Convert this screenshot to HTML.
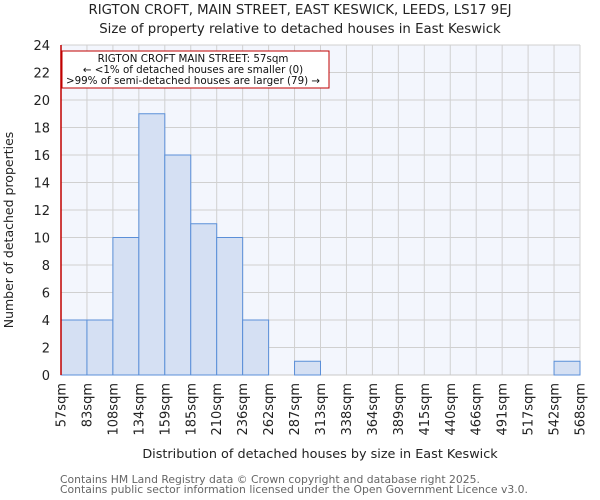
<!DOCTYPE html>
<html><head><meta charset="utf-8"><style>
body{margin:0;background:#fff;}
svg{display:block;font-family:"DejaVu Sans","Liberation Sans",sans-serif;}
</style></head><body>
<svg id="chart" width="600" height="500">
<text x="300" y="14" text-anchor="middle" font-size="13.3" fill="#222">RIGTON CROFT, MAIN STREET, EAST KESWICK, LEEDS, LS17 9EJ</text>
<text x="300" y="33" text-anchor="middle" font-size="13.3" fill="#222">Size of property relative to detached houses in East Keswick</text>
<rect x="61" y="45" width="519" height="330" fill="#f3f6fd"/>
<g id="grid"></g>
<g id="bars"></g>
<g id="yticks"></g>
<g id="xticks"></g>
<line x1="61" y1="45" x2="61" y2="375" stroke="#c00000" stroke-width="1.5"/>
<g>
<rect x="62" y="51" width="267" height="37" fill="#fff" stroke="#c00000" stroke-width="1"/>
<text x="193" y="62" text-anchor="middle" font-size="10.3" fill="#111">RIGTON CROFT MAIN STREET: 57sqm</text>
<text x="193" y="73" text-anchor="middle" font-size="10.3" fill="#111">← &lt;1% of detached houses are smaller (0)</text>
<text x="193" y="84" text-anchor="middle" font-size="10.3" fill="#111">&gt;99% of semi-detached houses are larger (79) →</text>
</g>
<text transform="translate(13,230) rotate(-90)" text-anchor="middle" font-size="12.5" fill="#222">Number of detached properties</text>
<text x="320" y="458" text-anchor="middle" font-size="12.8" fill="#222">Distribution of detached houses by size in East Keswick</text>
<text x="60" y="483" font-size="10.8" fill="#666">Contains HM Land Registry data © Crown copyright and database right 2025.</text>
<text x="60" y="493" font-size="10.8" fill="#666">Contains public sector information licensed under the Open Government Licence v3.0.</text>
</svg>
<script>
const categories=["57sqm","83sqm","108sqm","134sqm","159sqm","185sqm","210sqm","236sqm","262sqm","287sqm","313sqm","338sqm","364sqm","389sqm","415sqm","440sqm","466sqm","491sqm","517sqm","542sqm","568sqm"];
const counts=[4,4,10,19,16,11,10,4,0,1,0,0,0,0,0,0,0,0,0,1];
const yTicks=[0,2,4,6,8,10,12,14,16,18,20,22,24];
const NS="http://www.w3.org/2000/svg";
const X0=61,X1=580,Y0=375,Y1=45,YMAX=24;
const bw=(X1-X0)/counts.length;
function xs(i){return X0+i*bw;}
function ys(v){return Y0-(v/YMAX)*(Y0-Y1);}
function mk(t,a,p){const e=document.createElementNS(NS,t);for(const k in a)e.setAttribute(k,a[k]);p.appendChild(e);return e;}
const grid=document.getElementById('grid'),bars=document.getElementById('bars'),yt=document.getElementById('yticks'),xt=document.getElementById('xticks');
yTicks.forEach(v=>{
 const l=mk('line',{x1:X0,x2:X1,y1:ys(v),y2:ys(v),stroke:'#d0d0d0','stroke-width':1},grid);
 
 
 const t=mk('text',{x:50,y:ys(v)+5,'text-anchor':'end','font-size':13,fill:'#222'},yt);
 t.textContent=v;
 
 
});
categories.forEach((c,i)=>{
 const x=xs(i);
 const l=mk('line',{x1:x,x2:x,y1:Y1,y2:Y0,stroke:'#d0d0d0','stroke-width':1},grid);
 
 
 const t=mk('text',{transform:`translate(${x+4.5},383) rotate(-90)`,'text-anchor':'end','font-size':13,fill:'#222'},xt);
 t.textContent=c;
 
 
});
counts.forEach((v,i)=>{
 if(v<=0)return;
 const r=mk('rect',{x:xs(i),y:ys(v),width:bw,height:Y0-ys(v),fill:'#d5e0f3',stroke:'#5b8fd8','stroke-width':1},bars);
 
 
});
const base=mk('line',{x1:X0,x2:X1,y1:Y0,y2:Y0,stroke:'#c8c8c8','stroke-width':1},grid);


</script>
</body></html>
